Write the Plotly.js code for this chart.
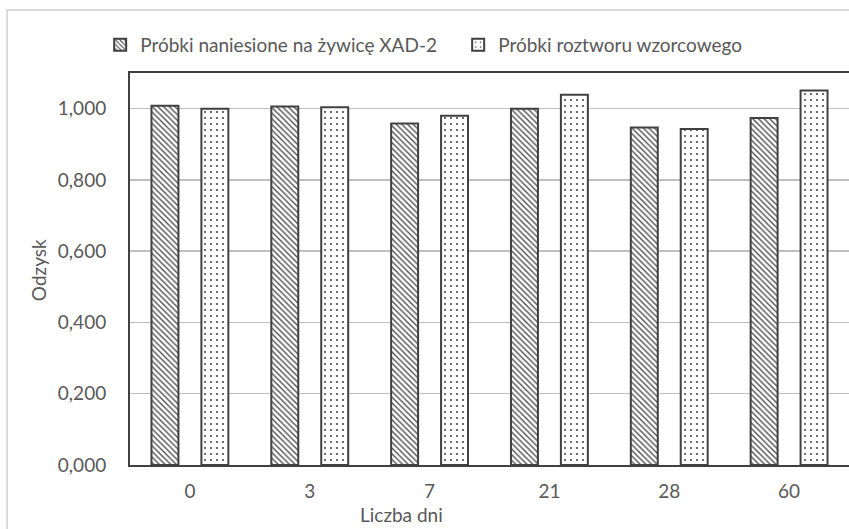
<!DOCTYPE html>
<html>
<head>
<meta charset="utf-8">
<script src="https://cdn.plot.ly/plotly-3.0.1.min.js"></script>
<style>
html,body{margin:0;padding:0;overflow:hidden;background:#fff;}
#chart{width:849px;height:529px;}
</style>
</head>
<body>
<div id="chart"></div>
<script>
// Data
const categories = ["0", "3", "7", "21", "28", "60"];
const seriesNames = ["Próbki naniesione na żywicę XAD-2", "Próbki roztworu wzorcowego"];
const resinValues = [1.008, 1.006, 0.958, 1.000, 0.947, 0.974];
const standardValues = [1.000, 1.004, 0.980, 1.039, 0.943, 1.051];
const xTitle = "Liczba dni";
const yTitle = "Odzysk";

const FONT = "Lato, 'Open Sans', sans-serif";
const TXT = "#595959";
const FS = 19;

const traces = [
  {
    type: "bar",
    name: seriesNames[0],
    x: categories,
    y: resinValues,
    marker: {
      color: "#ffffff",
      line: {color: "#404040", width: 2},
      pattern: {shape: "\\", fgcolor: "#505050", bgcolor: "#ffffff", size: 4, solidity: 0.35}
    },
    hoverinfo: "x+y"
  },
  {
    type: "bar",
    name: seriesNames[1],
    x: categories,
    y: standardValues,
    marker: {
      color: "#ffffff",
      line: {color: "#404040", width: 2},
      pattern: {shape: ".", fgcolor: "#333333", bgcolor: "#ffffff", size: 6, solidity: 0.08}
    },
    hoverinfo: "x+y"
  }
];

const layout = {
  width: 849,
  height: 529,
  margin: {l: 130, r: 0, t: 73, b: 64},
  paper_bgcolor: "#ffffff",
  plot_bgcolor: "#ffffff",
  separators: ", ",
  barmode: "group",
  bargap: 0.1667,
  bargroupgap: 0.46,
  font: {family: FONT, size: FS, color: TXT},
  showlegend: true,
  legend: {
    orientation: "h",
    x: -0.0415, xanchor: "left",
    y: 1.072, yanchor: "middle",
    entrywidth: 313,
    font: {family: FONT, size: FS, color: TXT},
    bgcolor: "rgba(0,0,0,0)"
  },
  xaxis: {
    type: "category",
    showgrid: false,
    showline: true,
    mirror: true,
    linecolor: "#404040",
    linewidth: 2,
    ticks: "",
    ticklabelstandoff: 8,
    tickfont: {family: FONT, size: FS, color: TXT},
    zeroline: false,
    fixedrange: true
  },
  yaxis: {
    range: [0, 1.1],
    dtick: 0.2,
    tick0: 0,
    tickformat: ".3f",
    showgrid: true,
    gridcolor: "#bfbfbf",
    gridwidth: 1.5,
    showline: true,
    linecolor: "#404040",
    linewidth: 2,
    ticks: "",
    ticklabelstandoff: 18,
    tickfont: {family: FONT, size: FS, color: TXT},
    zeroline: false,
    fixedrange: true
  },
  annotations: [
    {
      text: xTitle, xref: "paper", yref: "paper",
      x: 0.377, y: -0.127, xanchor: "center", yanchor: "middle",
      showarrow: false, font: {family: FONT, size: FS, color: TXT}
    },
    {
      text: yTitle, xref: "paper", yref: "paper",
      x: -0.128, y: 0.497, xanchor: "center", yanchor: "middle",
      textangle: -90,
      showarrow: false, font: {family: FONT, size: FS, color: TXT}
    }
  ],
  shapes: [
    {
      type: "rect", xref: "paper", yref: "paper",
      x0: -0.171, x1: 1.2, y0: -0.3, y1: 1.1607,
      line: {color: "#d0d0d0", width: 1.5},
      fillcolor: "rgba(0,0,0,0)",
      layer: "below"
    }
  ]
};

Plotly.newPlot("chart", traces, layout, {staticPlot: true, displayModeBar: false});
</script>
</body>
</html>
